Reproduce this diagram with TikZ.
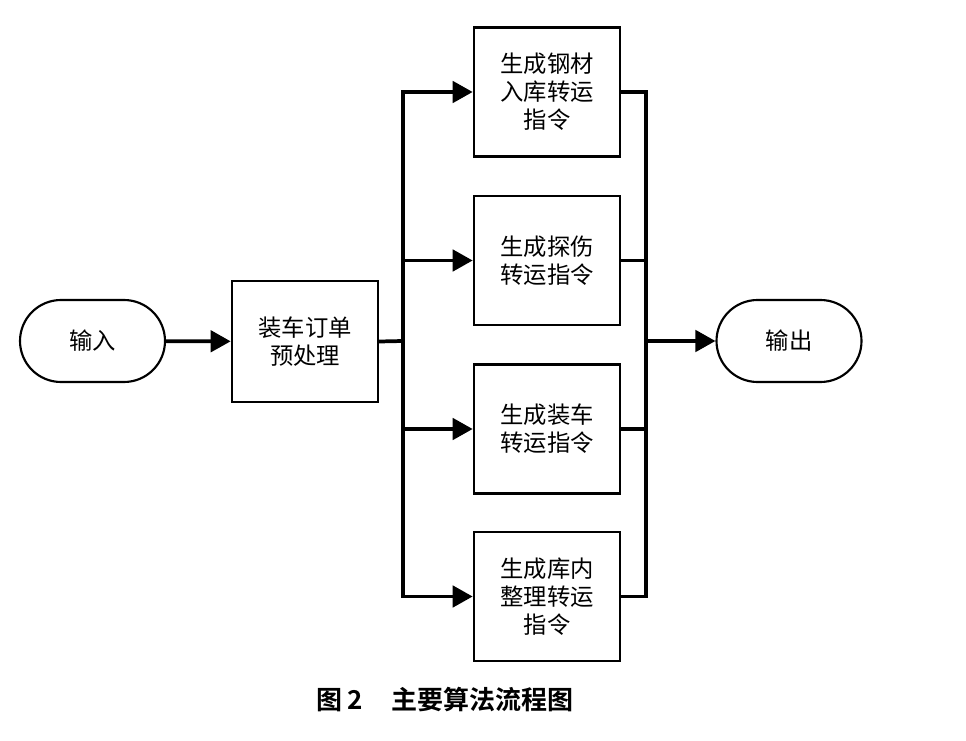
\documentclass[tikz,border=0pt]{standalone}
\usepackage{fontspec}
\setmainfont{Noto Sans CJK SC}
\newfontfamily\capfont{Noto Sans CJK SC Bold}
\usetikzlibrary{shapes.misc,arrows.meta}
\begin{document}
\begin{tikzpicture}[x=0.75pt,y=-0.75pt,
  procbox/.style={draw,line width=2pt,minimum width=109.5pt,minimum height=96.75pt,inner sep=0pt,align=center,font=\fontsize{17.5}{21}\selectfont},
  termbox/.style={draw,line width=1.6pt,rounded rectangle,minimum width=108.75pt,minimum height=61.5pt,inner sep=0pt,font=\fontsize{17.5}{21}\selectfont},
  conn/.style={line width=2.8pt,line cap=rect},
  arr/.style={line width=2.8pt,-{Triangle[length=15pt,width=16pt]}}]
\useasboundingbox (0,0) rectangle (966,741);
\node[termbox] (in) at (92.5,341) {输入};
\node[procbox,minimum height=90.75pt] (pre) at (305,341.5) {装车订单\\预处理};
\node[procbox] (b1) at (547,92) {生成钢材\\入库转运\\指令};
\node[procbox] (b2) at (547,260.5) {生成探伤\\转运指令};
\node[procbox] (b3) at (547,429) {生成装车\\转运指令};
\node[procbox] (b4) at (547,596.5) {生成库内\\整理转运\\指令};
\node[termbox] (out) at (789,341) {输出};
\coordinate (s) at (403,341);
\coordinate (j) at (646,341);
\draw[arr] (in) -- (pre);
\draw[conn] (pre.east) -- (s);
\draw[conn] (s |- b1.west) -- (s |- b4.west);
\draw[conn] (j |- b1.east) -- (j |- b4.east);
\foreach \b in {b1,b2,b3,b4}{
  \draw[arr] (s |- \b.west) -- (\b.west);
  \draw[conn] (\b.east) -- (j |- \b.east);
}
\draw[arr] (j) -- (out);
\node[font=\capfont\fontsize{19.5}{22}\selectfont,anchor=center] (cap) at (445,700) {图\,2\hspace{1.1em}主要算法流程图};
\end{tikzpicture}
\end{document}
